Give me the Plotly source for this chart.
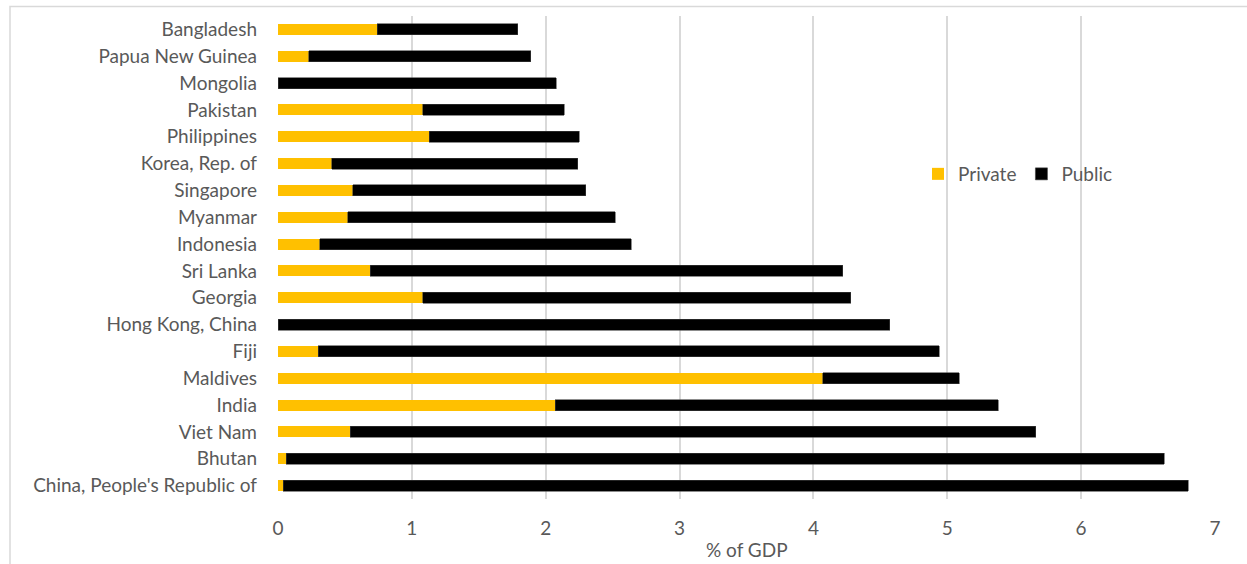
import plotly.graph_objects as go

categories = ["Bangladesh", "Papua New Guinea", "Mongolia", "Pakistan", "Philippines",
              "Korea, Rep. of", "Singapore", "Myanmar", "Indonesia", "Sri Lanka",
              "Georgia", "Hong Kong, China", "Fiji", "Maldives", "India", "Viet Nam",
              "Bhutan", "China, People's Republic of"]
private = [0.74, 0.23, 0.0, 1.08, 1.13, 0.40, 0.56, 0.52, 0.31, 0.69,
           1.08, 0.0, 0.30, 4.07, 2.07, 0.54, 0.06, 0.04]
public = [1.05, 1.66, 2.08, 1.06, 1.12, 1.84, 1.74, 2.00, 2.33, 3.53,
          3.20, 4.57, 4.64, 1.02, 3.31, 5.12, 6.56, 6.76]
x_ticks = [0, 1, 2, 3, 4, 5, 6, 7]
x_title = "% of GDP"

FONT = "Lato"
GRAY = "#595959"
FS = 19

fig = go.Figure()
fig.add_trace(go.Bar(y=categories, x=private, name="Private", orientation="h",
                     marker=dict(color="#FFC000", line=dict(width=0))))
fig.add_trace(go.Bar(y=categories, x=public, name="Public", orientation="h",
                     marker=dict(color="#000000", line=dict(width=0.6, color="#404040"))))

W, H = 1247, 564
ml, mr, mt, mb = 278, 32, 16, 65
pw, ph = W - ml - mr, H - mt - mb

def px_x(p):
    return (p - ml) / pw

def px_y(p):
    return (H - mb - p) / ph

fig.update_layout(
    width=W, height=H,
    barmode="stack",
    bargap=0.59,
    margin=dict(l=ml, r=mr, t=mt, b=mb, autoexpand=False),
    paper_bgcolor="white",
    plot_bgcolor="white",
    font=dict(family=FONT, size=FS, color=GRAY),
    showlegend=True,
    legend=dict(orientation="h", x=px_x(918), xanchor="left", y=px_y(174), yanchor="middle",
                font=dict(family=FONT, size=FS, color=GRAY), bgcolor="rgba(0,0,0,0)",
                traceorder="normal"),
    xaxis=dict(range=[0, 7], tickvals=x_ticks, showgrid=True, gridcolor="#d9d9d9",
               gridwidth=1.5, zeroline=False, showline=False, ticks="",
               ticklabelstandoff=16, automargin=False,
               tickfont=dict(family=FONT, size=FS, color=GRAY)),
    yaxis=dict(autorange="reversed", showgrid=False, zeroline=False, showline=False,
               ticks="", ticklabelstandoff=20, automargin=False,
               tickfont=dict(family=FONT, size=FS, color=GRAY)),
    annotations=[dict(text=x_title, xref="paper", yref="paper", x=0.5, y=px_y(549),
                      xanchor="center", yanchor="middle", showarrow=False,
                      font=dict(family=FONT, size=FS, color=GRAY))],
    shapes=[dict(type="rect", xref="paper", yref="paper",
                 x0=px_x(10), x1=px_x(1260), y0=px_y(580), y1=px_y(6.5),
                 line=dict(color="#d9d9d9", width=1.5), fillcolor="rgba(0,0,0,0)", layer="below")],
)

fig.write_html("out.html")
